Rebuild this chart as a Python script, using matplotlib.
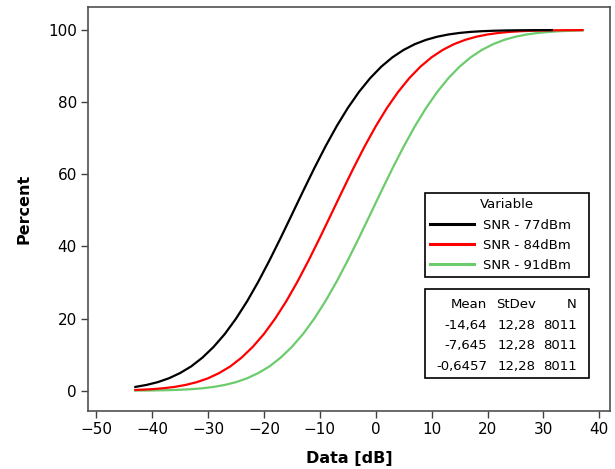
import matplotlib
matplotlib.use("Agg")
from matplotlib import pyplot as plt
from matplotlib.patches import Rectangle

# значения (процент, эмпирическая функция распределения)
black_x = [-43, -41, -39, -37, -35, -33, -31, -29, -27, -25, -23, -21, -19, -17, -15,
           -13, -11, -9, -7, -5, -3, -1, 1, 3, 5, 7, 9, 11, 13, 15, 17, 19, 21, 23,
           25, 27, 29, 31.5]
black_y = [1.05, 1.60, 2.37, 3.44, 4.89, 6.75, 9.17, 12.15, 15.72, 19.97, 24.81, 30.24,
           36.15, 42.39, 48.83, 55.31, 61.65, 67.70, 73.31, 78.38, 82.84, 86.66, 89.86,
           92.46, 94.51, 96.10, 97.29, 98.16, 98.78, 99.21, 99.50, 99.69, 99.81, 99.89,
           99.94, 99.97, 99.98, 100.0]

red_x = [-43, -40, -38, -36, -34, -32, -30, -28, -26, -24, -22, -20, -18, -16, -14,
         -12, -10, -8, -6, -4, -2, 0, 2, 4, 6, 8, 10, 12, 14, 16, 18, 20, 22, 24, 26,
         28, 30, 32, 34, 36, 37]
red_y = [0.20, 0.42, 0.68, 1.05, 1.60, 2.37, 3.44, 4.89, 6.75, 9.17, 12.15, 15.72,
         19.97, 24.81, 30.24, 36.15, 42.39, 48.83, 55.31, 61.65, 67.70, 73.31, 78.38,
         82.84, 86.66, 89.86, 92.46, 94.51, 96.10, 97.29, 98.16, 98.78, 99.21, 99.50,
         99.69, 99.81, 99.89, 99.94, 99.97, 99.98, 100.0]

green_x = [-43, -41, -39, -37, -35, -33, -31, -29, -27, -25, -23, -21, -19, -17, -15,
           -13, -11, -9, -7, -5, -3, -1, 1, 3, 5, 7, 9, 11, 13, 15, 17, 19, 21, 23,
           25, 27, 29, 31, 33, 35, 37]
green_y = [0.03, 0.05, 0.09, 0.15, 0.26, 0.42, 0.67, 1.05, 1.60, 2.37, 3.44, 4.89,
           6.75, 9.17, 12.15, 15.72, 19.97, 24.81, 30.24, 36.15, 42.39, 48.83, 55.31,
           61.65, 67.70, 73.31, 78.38, 82.84, 86.66, 89.86, 92.46, 94.51, 96.10, 97.29,
           98.16, 98.78, 99.21, 99.50, 99.69, 99.81, 99.90]

labels = ["SNR - 77dBm", "SNR - 84dBm", "SNR - 91dBm"]
colors = ["black", "#ff0000", "#6ccb6c"]

stat_mean = ["-14,64", "-7,645", "-0,6457"]
stat_sd = ["12,28", "12,28", "12,28"]
stat_n = ["8011", "8011", "8011"]

W, H = 615, 469
fig = plt.figure(figsize=(W / 100, H / 100), dpi=100)
ax = fig.add_axes([88 / W, 1 - 411 / H, (610 - 88) / W, (411 - 7) / H])

series = [(black_x, black_y), (red_x, red_y), (green_x, green_y)]
# зеленый снизу, черный сверху
for ii in [2, 1, 0]:
    ax.plot(series[ii][0], series[ii][1], color=colors[ii], linewidth=1.6,
            label=labels[ii], zorder=3 - ii)

ax.set_xlim(-51.47, 41.91)
ax.set_ylim(-5.63, 106.4)
ax.set_xticks(range(-50, 41, 10))
ax.set_yticks(range(0, 101, 20))
ax.tick_params(direction="out", length=5, width=1, color="#404040",
               labelsize=11, pad=3)
for sp in ax.spines.values():
    sp.set_color("#505050")
    sp.set_linewidth(1.2)

ax.set_xlabel("Data [dB]", fontsize=11.5, fontweight="bold")
ax.set_ylabel("Percent", fontsize=11.5, fontweight="bold")
ax.xaxis.set_label_coords(0.5, -0.098)
ax.yaxis.set_label_coords(-0.108, 0.5)

# легенда
handles, labs = ax.get_legend_handles_labels()
order = [2, 1, 0]
leg = ax.legend([handles[i] for i in order], [labs[i] for i in order],
                title="Variable", loc="upper left",
                bbox_to_anchor=(425 / W, 1 - 283 / H, 164 / W, 90 / H),
                bbox_transform=fig.transFigure, mode="expand", borderaxespad=0,
                fancybox=False, edgecolor="black", framealpha=1,
                fontsize=9.5, title_fontsize=9.5, handlelength=3.3,
                handletextpad=0.7, labelspacing=0.55, borderpad=0.4)
leg.get_frame().set_linewidth(1.2)
for ln in leg.get_lines():
    ln.set_linewidth(2.2)

# таблица статистики
fig.patches.append(Rectangle((425 / W, 1 - 378 / H), 164 / W, 89 / H,
                             transform=fig.transFigure, fill=False,
                             edgecolor="black", linewidth=1.2))
col_x = [487, 536, 577]
row_y = [305, 325, 345, 366]
header = ["Mean", "StDev", "N"]
for jj in range(3):
    fig.text(col_x[jj] / W, 1 - row_y[0] / H, header[jj], ha="right",
             va="center", fontsize=9.5)
for ii in range(3):
    vals = [stat_mean[ii], stat_sd[ii], stat_n[ii]]
    for jj in range(3):
        fig.text(col_x[jj] / W, 1 - row_y[ii + 1] / H, vals[jj], ha="right",
                 va="center", fontsize=9.5)

fig.savefig("out.png", dpi=100)
